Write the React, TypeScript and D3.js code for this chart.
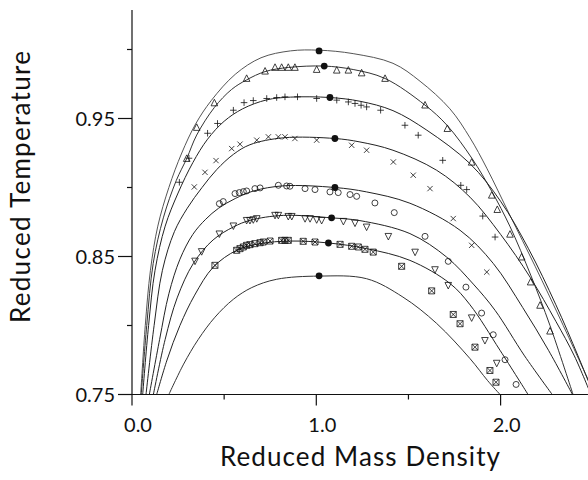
import React from "react";
import * as d3 from "d3";

type P = [number, number];

// axis extents (data units)
const X_MAX = 2.474;
const Y_MIN = 0.75;
const Y_MAX = 1.0286;

const xMajorTicks = [0, 1, 2];
const xMajorLabels = ["0.0", "1.0", "2.0"];
const xMinorTicks = [0.5, 1.5];
const yMajorTicks = [0.75, 0.85, 0.95];
const yMajorLabels = ["0.75", "0.85", "0.95"];
const yMinorTicks = [0.8, 0.9, 1.0];

// fitted coexistence curves, top to bottom
const curve1: P[] = [[0.047,0.75],[0.072,0.80],[0.1,0.84],[0.14,0.872],[0.2,0.9],[0.27,0.925],[0.345,0.946],[0.43,0.963],[0.56,0.982],[0.70,0.994],[0.86,0.999],[1.015,0.9995],[1.2,0.997],[1.416,0.990],[1.563,0.977],[1.725,0.957],[1.834,0.936],[1.925,0.914],[2.05,0.88],[2.187,0.843],[2.34,0.8],[2.45,0.768],[2.53,0.745]];
const curve2: P[] = [[0.05,0.75],[0.08,0.80],[0.115,0.845],[0.17,0.878],[0.24,0.905],[0.297,0.921],[0.351,0.938],[0.447,0.958],[0.54,0.971],[0.622,0.978],[0.722,0.984],[0.85,0.987],[1.043,0.988],[1.2,0.9855],[1.373,0.979],[1.59,0.9597],[1.71,0.945],[1.845,0.921],[1.953,0.897],[2.05,0.872],[2.165,0.836],[2.268,0.800],[2.393,0.75]];
const curve3: P[] = [[0.058,0.75],[0.09,0.80],[0.125,0.84],[0.18,0.872],[0.25,0.896],[0.33,0.918],[0.41,0.935],[0.5,0.948],[0.6,0.957],[0.731,0.9635],[0.86,0.9655],[1.074,0.9652],[1.237,0.9625],[1.416,0.9557],[1.6,0.9415],[1.834,0.9173],[2.0,0.89],[2.15,0.856],[2.3,0.815],[2.42,0.778],[2.52,0.745]];
const curve4: P[] = [[0.076,0.75],[0.12,0.80],[0.165,0.84],[0.23,0.868],[0.3,0.885],[0.38,0.9],[0.46,0.913],[0.55,0.924],[0.64,0.931],[0.821,0.936],[1.101,0.9355],[1.237,0.933],[1.416,0.927],[1.653,0.9125],[1.834,0.893],[2.0,0.866],[2.16,0.835],[2.30,0.803],[2.40,0.778],[2.49,0.75]];
const curve5: P[] = [[0.094,0.75],[0.15,0.79],[0.2,0.823],[0.26,0.848],[0.33,0.866],[0.4,0.877],[0.47,0.885],[0.56,0.892],[0.66,0.8975],[0.821,0.9012],[1.101,0.900],[1.273,0.8968],[1.508,0.8886],[1.78,0.869],[1.96,0.845],[2.12,0.813],[2.26,0.782],[2.39,0.75]];
const curve6: P[] = [[0.116,0.75],[0.18,0.79],[0.245,0.82],[0.333,0.845],[0.44,0.862],[0.55,0.8714],[0.64,0.8762],[0.821,0.8798],[1.083,0.878],[1.237,0.876],[1.508,0.8666],[1.707,0.8496],[1.852,0.830],[1.97,0.811],[2.13,0.778],[2.28,0.75]];
const curve7: P[] = [[0.134,0.75],[0.19,0.775],[0.26,0.80],[0.34,0.822],[0.441,0.8423],[0.568,0.8545],[0.695,0.8593],[0.857,0.8612],[1.066,0.8598],[1.273,0.8557],[1.508,0.8472],[1.725,0.8305],[1.834,0.815],[1.997,0.782],[2.149,0.75]];
const curve8: P[] = [[0.2,0.75],[0.28,0.772],[0.36,0.79],[0.45,0.806],[0.55,0.819],[0.65,0.8275],[0.785,0.8335],[1.015,0.8358],[1.273,0.8339],[1.47,0.8206],[1.653,0.8015],[1.834,0.776],[1.93,0.76],[1.997,0.75]];

// critical points (filled dots)
const criticalPoints: P[] = [[1.015,0.999],[1.043,0.988],[1.074,0.9652],[1.101,0.9355],[1.101,0.900],[1.083,0.878],[1.066,0.8598],[1.015,0.836]];

// simulation data
const triangleUpData: P[] = [[0.297,0.921],[0.351,0.9435],[0.447,0.9613],[0.622,0.979],[0.722,0.9843],[0.776,0.987],[0.812,0.987],[0.848,0.987],[0.884,0.987],[1.002,0.9855],[1.111,0.985],[1.174,0.985],[1.246,0.983],[1.373,0.979],[1.59,0.9597],[1.711,0.9427],[1.843,0.9183],[1.952,0.8944],[1.982,0.884],[2.051,0.8661],[2.114,0.8496],[2.163,0.8315],[2.214,0.8146],[2.268,0.7959]];
const plusData: P[] = [[0.257,0.9038],[0.309,0.9212],[0.41,0.9393],[0.464,0.9464],[0.55,0.956],[0.608,0.9615],[0.658,0.963],[0.731,0.9645],[0.785,0.9652],[0.83,0.9657],[0.898,0.9657],[1.002,0.9645],[1.111,0.9633],[1.174,0.962],[1.21,0.9609],[1.243,0.9596],[1.273,0.9584],[1.349,0.956],[1.481,0.9451],[1.553,0.9379],[1.686,0.9197],[1.784,0.9016],[1.816,0.8985],[1.903,0.8793],[1.97,0.8641]];
const crossData: P[] = [[0.338,0.9004],[0.396,0.911],[0.456,0.9195],[0.541,0.9282],[0.586,0.9314],[0.677,0.9343],[0.74,0.9367],[0.794,0.9367],[0.83,0.9367],[0.884,0.9355],[1.002,0.9343],[1.192,0.9306],[1.273,0.927],[1.418,0.9185],[1.526,0.9089],[1.617,0.8992],[1.743,0.8775],[1.843,0.8581],[1.925,0.8387]];
const circleData: P[] = [[0.474,0.8883],[0.495,0.8898],[0.559,0.8956],[0.582,0.8963],[0.604,0.897],[0.622,0.8975],[0.667,0.8992],[0.695,0.8997],[0.794,0.9016],[0.839,0.9011],[0.857,0.9009],[0.939,0.8992],[0.993,0.8985],[1.074,0.8968],[1.119,0.8963],[1.183,0.8949],[1.219,0.8936],[1.318,0.8888],[1.423,0.8818],[1.59,0.8646],[1.716,0.8465],[1.812,0.8278],[1.897,0.809],[1.96,0.7933],[2.024,0.7752],[2.084,0.7573]];
const triangleDownData: P[] = [[0.342,0.8467],[0.378,0.8536],[0.474,0.8664],[0.55,0.8722],[0.622,0.8762],[0.64,0.8762],[0.658,0.8767],[0.677,0.8775],[0.776,0.8799],[0.794,0.8799],[0.848,0.8791],[0.867,0.8791],[0.939,0.8775],[0.966,0.8775],[1.002,0.8767],[1.029,0.8762],[1.147,0.8755],[1.21,0.8743],[1.273,0.8714],[1.391,0.8646],[1.536,0.8532],[1.644,0.8405],[1.716,0.8291],[1.843,0.8056],[1.915,0.7892],[1.979,0.7727]];
const boxCrossData: P[] = [[0.45,0.8436],[0.568,0.8545],[0.586,0.8557],[0.604,0.8569],[0.622,0.8581],[0.64,0.8586],[0.667,0.8593],[0.695,0.86],[0.712,0.8605],[0.749,0.8612],[0.812,0.8617],[0.83,0.8617],[0.848,0.8617],[0.929,0.861],[0.993,0.8605],[1.129,0.8588],[1.192,0.8574],[1.228,0.8569],[1.264,0.8552],[1.309,0.8532],[1.463,0.8429],[1.626,0.8251],[1.743,0.808],[1.78,0.8013],[1.861,0.7843],[1.942,0.7674],[1.975,0.7589]];

const curves = [curve1, curve2, curve3, curve4, curve5, curve6, curve7, curve8];
const curveColors = ["#555", "#333", "#222", "#222", "#222", "#222", "#222", "#333"];

const FONT = "Lato, 'Open Sans', sans-serif";
const INK = "#111";

export default function App() {
  const x = d3.scaleLinear().domain([0, 2]).range([132, 500.6]);
  const y = d3.scaleLinear().domain([0.75, 0.95]).range([394.5, 118.5]);
  const line = d3
    .line<P>()
    .x((d) => x(d[0]))
    .y((d) => y(d[1]))
    .curve(d3.curveCatmullRom.alpha(0.5));

  const x0 = x(0);
  const y0 = y(Y_MIN);
  const s = 3.3; // marker half-size

  const tri = (cx: number, cy: number, up: boolean) => {
    const h = s * 1.1;
    return up
      ? `M${cx},${cy - h}L${cx + s},${cy + h * 0.8}L${cx - s},${cy + h * 0.8}Z`
      : `M${cx},${cy + h}L${cx + s},${cy - h * 0.8}L${cx - s},${cy - h * 0.8}Z`;
  };

  return (
    <svg
      width={588}
      height={480}
      style={{ position: "fixed", left: 0, top: 0, background: "#fff" }}
    >
      <defs>
        <clipPath id="plot">
          <rect x={x0} y={0} width={x(X_MAX) - x0} height={y0} />
        </clipPath>
      </defs>
      <rect x={0} y={0} width={588} height={480} fill="#fff" />

      {/* curves */}
      <g clipPath="url(#plot)" fill="none">
        {curves.map((c, i) => (
          <path key={i} d={line(c) || ""} stroke={curveColors[i]} strokeWidth={1} />
        ))}
      </g>

      {/* markers */}
      <g fill="none" stroke={INK} strokeWidth={0.8} clipPath="url(#plot)">
        {triangleUpData.map((d, i) => (
          <path key={"tu" + i} d={tri(x(d[0]), y(d[1]), true)} />
        ))}
        {triangleDownData.map((d, i) => (
          <path key={"td" + i} d={tri(x(d[0]), y(d[1]), false)} />
        ))}
        {plusData.map((d, i) => {
          const cx = x(d[0]), cy = y(d[1]);
          return <path key={"p" + i} d={`M${cx - s},${cy}H${cx + s}M${cx},${cy - s}V${cy + s}`} />;
        })}
        {crossData.map((d, i) => {
          const cx = x(d[0]), cy = y(d[1]), k = s * 0.8;
          return (
            <path key={"x" + i} d={`M${cx - k},${cy - k}L${cx + k},${cy + k}M${cx - k},${cy + k}L${cx + k},${cy - k}`} />
          );
        })}
        {circleData.map((d, i) => (
          <circle key={"c" + i} cx={x(d[0])} cy={y(d[1])} r={3} />
        ))}
        {boxCrossData.map((d, i) => {
          const cx = x(d[0]), cy = y(d[1]), k = 3;
          return (
            <path
              key={"b" + i}
              d={`M${cx - k},${cy - k}H${cx + k}V${cy + k}H${cx - k}ZM${cx - k},${cy - k}L${cx + k},${cy + k}M${cx - k},${cy + k}L${cx + k},${cy - k}`}
            />
          );
        })}
      </g>
      <g fill={INK}>
        {criticalPoints.map((d, i) => (
          <circle key={"cp" + i} cx={x(d[0])} cy={y(d[1])} r={3.4} />
        ))}
      </g>

      {/* axes */}
      <g stroke={INK} strokeWidth={1.2} fill="none">
        <line x1={x0} y1={y0} x2={x0} y2={y(Y_MAX)} />
        <line x1={x0} y1={y0} x2={x(X_MAX)} y2={y0} />
        {yMajorTicks.map((t) => (
          <line key={"ym" + t} x1={x0 - 14} x2={x0} y1={y(t)} y2={y(t)} />
        ))}
        {yMinorTicks.map((t) => (
          <line key={"yn" + t} x1={x0 - 5} x2={x0} y1={y(t)} y2={y(t)} />
        ))}
        {xMajorTicks.map((t) => (
          <line key={"xm" + t} x1={x(t)} x2={x(t)} y1={y0} y2={y0 + 11} />
        ))}
        {xMinorTicks.map((t) => (
          <line key={"xn" + t} x1={x(t)} x2={x(t)} y1={y0} y2={y0 + 5} />
        ))}
      </g>

      <g fontFamily={FONT} fontSize={20} fill={INK}>
        {yMajorTicks.map((t, i) => (
          <text key={"yl" + t} x={x0 - 17} y={y(t)} dy="0.35em" textAnchor="end">
            {yMajorLabels[i]}
          </text>
        ))}
        {xMajorTicks.map((t, i) => (
          <text key={"xl" + t} x={x(t) + 6} y={y0 + 37} textAnchor="middle">
            {xMajorLabels[i]}
          </text>
        ))}
      </g>

      <text
        x={360}
        y={466}
        textAnchor="middle"
        fontFamily={FONT}
        fontSize={26}
        fill={INK}
        textLength={280}
        lengthAdjust="spacing"
      >
        Reduced Mass Density
      </text>
      <text
        transform={`translate(30,187) rotate(-90)`}
        textAnchor="middle"
        fontFamily={FONT}
        fontSize={26}
        fill={INK}
        textLength={272}
        lengthAdjust="spacing"
      >
        Reduced Temperature
      </text>
    </svg>
  );
}
